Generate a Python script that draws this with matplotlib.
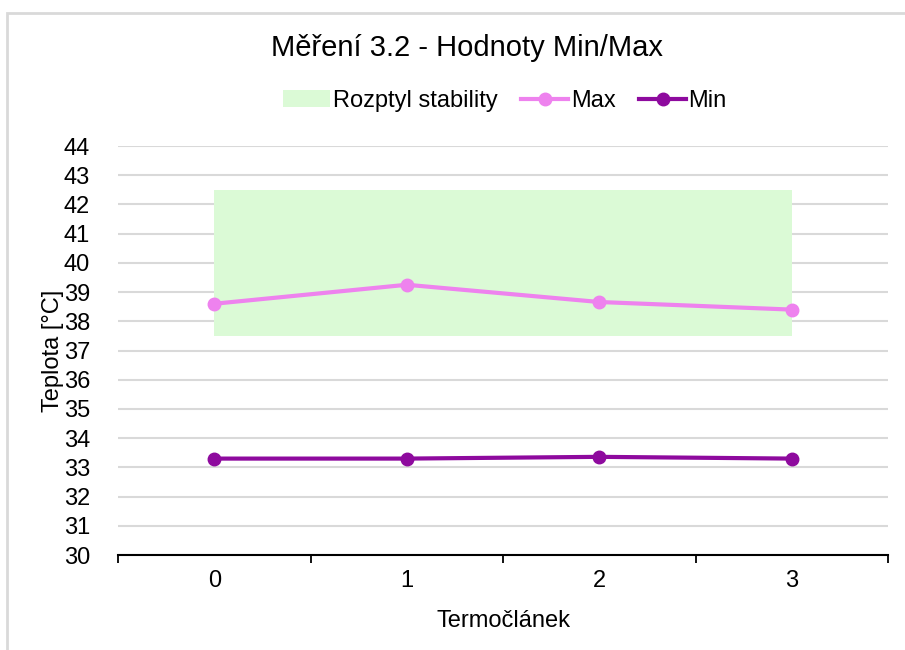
import matplotlib.pyplot as plt
from matplotlib.patches import Rectangle, Patch
from matplotlib.lines import Line2D

plt.rcParams['font.family'] = ['Liberation Sans', 'DejaVu Sans']

# DATA
termoclanky = [0, 1, 2, 3]
hodnoty_max = [38.6, 39.25, 38.66, 38.4]
hodnoty_min = [33.3, 33.3, 33.36, 33.3]
rozptyl_od, rozptyl_do = 37.5, 42.5

BARVA_MAX = '#ee82ee'
BARVA_MIN = '#8e0a9e'
BARVA_ROZPTYL = '#dbfad6'

fig = plt.figure(figsize=(9.05, 6.5), dpi=100)
ax = fig.add_axes([118 / 905, 1 - 555 / 650, 770 / 905, 409 / 650])

# ramecek grafu (jako v Excelu)
fig.patches.append(Rectangle((7 / 905, -0.1), 1.2, 1 - 13 / 650 + 0.1,
                             transform=fig.transFigure, fill=False,
                             edgecolor='#d9d9d9', linewidth=2))

# pasmo stability
ax.fill_between([termoclanky[0], termoclanky[-1]], rozptyl_od, rozptyl_do,
                color=BARVA_ROZPTYL, linewidth=0, zorder=1)

ax.plot(termoclanky, hodnoty_max, color=BARVA_MAX, lw=3, marker='o', ms=9, zorder=3)
ax.plot(termoclanky, hodnoty_min, color=BARVA_MIN, lw=3, marker='o', ms=9, zorder=3)

ax.set_xlim(-0.5, 3.5)
ax.set_ylim(30, 44)
ax.set_yticks(range(30, 45))
ax.set_xticks(termoclanky)
ax.set_xticks([-0.5, 0.5, 1.5, 2.5, 3.5], minor=True)
ax.tick_params(axis='x', which='major', length=0, labelsize=17, pad=11)
ax.tick_params(axis='x', which='minor', length=6, width=1.3, color='black', direction='out')
ax.tick_params(axis='y', length=0, labelsize=17, pad=20)
ax.grid(axis='y', color='#d9d9d9', linewidth=1.5, zorder=0)
ax.set_axisbelow(True)
for s in ['top', 'right', 'left']:
    ax.spines[s].set_visible(False)
ax.spines['bottom'].set_linewidth(1.5)

ax.set_xlabel("Termočlánek", fontsize=17, labelpad=13)
ax.set_ylabel("Teplota [°C]", fontsize=17, labelpad=0)
fig.text(467 / 905, 1 - 48 / 650, "Měření 3.2 - Hodnoty Min/Max", fontsize=21,
         ha='center', va='center')

handles = [Patch(facecolor=BARVA_ROZPTYL, edgecolor='none'),
           Line2D([], [], color=BARVA_MAX, lw=3, marker='o', ms=9),
           Line2D([], [], color=BARVA_MIN, lw=3, marker='o', ms=9)]
fig.legend(handles, ["Rozptyl stability", "Max", "Min"], loc='center',
           bbox_to_anchor=(505 / 905, 1 - 101 / 650), ncol=3, frameon=False,
           fontsize=17, handlelength=2, handletextpad=0.1, columnspacing=1.0)

fig.savefig("out.png", dpi=100)
